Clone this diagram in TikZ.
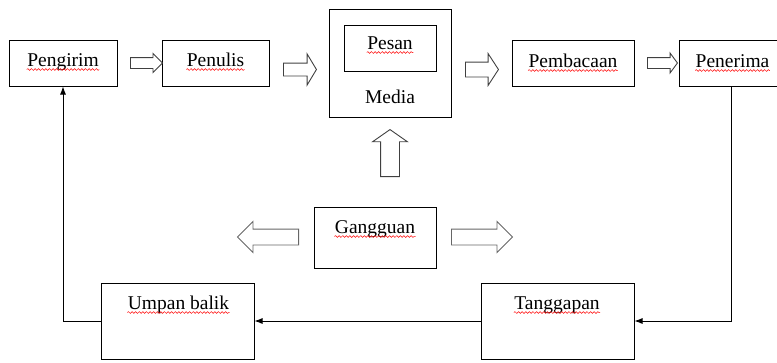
\documentclass[tikz,border=0pt]{standalone}
\usepackage{fontspec}
\setmainfont{Liberation Serif}
\usetikzlibrary{arrows.meta,shapes.arrows,decorations.pathmorphing}

\begin{document}
\begin{tikzpicture}[
		x=1pt, y=-1pt,
		every node/.style={rectangle, draw, line width=1pt, inner sep=0pt},
		word/.style={draw=none, anchor=base, font=\fontsize{19.5}{22}\selectfont},
		fat/.style={single arrow, draw=black!75, line width=0.9pt, inner xsep=0pt, anchor=tail},
		spell/.style={red, line width=0.5pt, decorate, decoration={snake, amplitude=0.9pt, segment length=3.6pt}},
		link/.style={line width=0.9pt, -{Latex[length=8pt, width=6pt]}}
	]
  \useasboundingbox (0,0) rectangle (777,362);
  % top row
  \node (pengirim) [minimum width=108, minimum height=46] at (63,63) {};
  \node (penulis) [minimum width=107, minimum height=46] at (215.5,63) {};
  \node (media) [minimum width=122, minimum height=108] at (390,63) {};
  \node (pesan) [minimum width=92, minimum height=46] at (390,48) {};
  \node (pembacaan) [minimum width=122, minimum height=46] at (573,63) {};
  \node (penerima) [minimum width=107, minimum height=46] at (732.5,63) {};
  % middle and bottom
  \node (gangguan) [minimum width=122, minimum height=61] at (375,237.5) {};
  \node (umpan) [minimum width=153, minimum height=76] at (177.5,321) {};
  \node (tanggapan) [minimum width=153, minimum height=76] at (557.5,321) {};
  % texts
  \node (pengirim_t) [word] at (63,66) {Pengirim};
  \node (penulis_t) [word] at (215.5,66) {Penulis};
  \node (pesan_t) [word] at (390,49) {Pesan};
  \node (media_t) [word] at (390,103) {Media};
  \node (pembacaan_t) [word] at (573,67) {Pembacaan};
  \node (penerima_t) [word] at (732.5,67) {Penerima};
  \node (gangguan_t) [word] at (375,233) {Gangguan};
  \node (umpan_t) [word] at (178.5,309) {Umpan balik};
  \node (tanggapan_t) [word] at (557,309) {Tanggapan};
  \foreach \t in {pengirim_t, penulis_t, pesan_t, pembacaan_t, penerima_t, gangguan_t, umpan_t, tanggapan_t}
    \draw [spell] ([yshift=-3.5pt]\t.base west) -- ([yshift=-3.5pt]\t.base east);
  % hollow arrows (placed by their tails)
  \node (a1) [fat, inner ysep=5pt, minimum height=32, minimum width=18, single arrow head extend=4pt, single arrow tip angle=90] at (130,63) {};
  \node (a2) [fat, inner ysep=6pt, minimum height=33, minimum width=30, single arrow head extend=9pt, single arrow tip angle=118] at (283,69.5) {};
  \node (a3) [fat, inner ysep=7pt, minimum height=33, minimum width=31, single arrow head extend=8.5pt, single arrow tip angle=114] at (465,69.5) {};
  \node (a4) [fat, inner ysep=5pt, minimum height=30, minimum width=19, single arrow head extend=4.5pt, single arrow tip angle=107] at (647,63) {};
  \node (up) [fat, rotate=90, inner ysep=9pt, minimum height=47, minimum width=34, single arrow head extend=8pt, single arrow tip angle=110] at (390,177) {};
  \node (kiri) [fat, draw=black!60, rotate=180, inner ysep=7.5pt, minimum height=61, minimum width=30, single arrow head extend=7.5pt, single arrow tip angle=90] at (299,237) {};
  \node (kanan) [fat, draw=black!60, inner ysep=7.5pt, minimum height=61, minimum width=30, single arrow head extend=7.5pt, single arrow tip angle=90] at (451,237) {};
  % feedback loop
  \draw [link] (penerima.south -| 731,0) |- (tanggapan.east);
  \draw [link] (tanggapan.west) -- (umpan.east);
  \draw [link] (umpan.west) -| (pengirim.south);
\end{tikzpicture}
\end{document}
